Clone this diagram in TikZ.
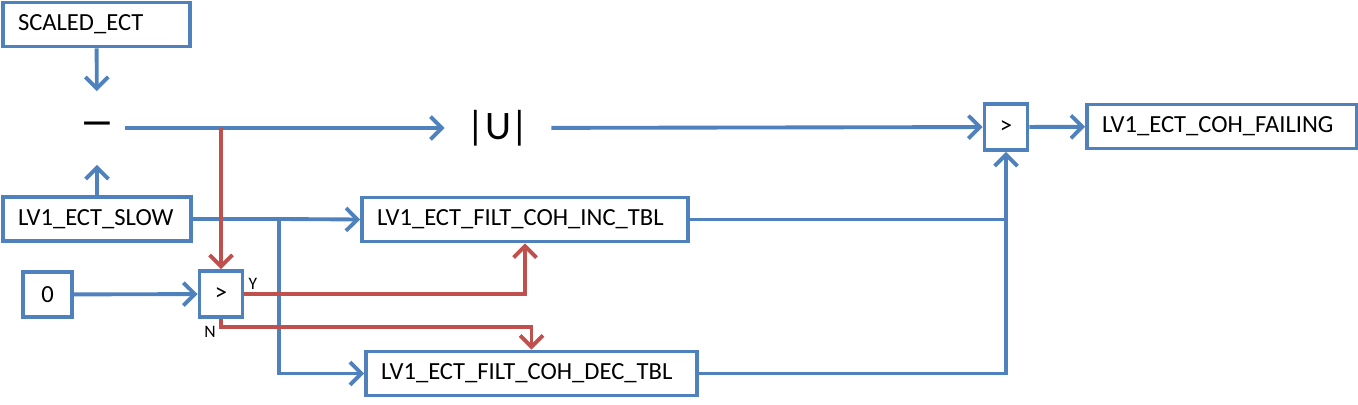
\documentclass[tikz,border=0pt]{standalone}
\usepackage{fontspec}
\setmainfont{Carlito}
\usetikzlibrary{arrows.meta}
\definecolor{lineblue}{RGB}{79,129,189}
\definecolor{linered}{RGB}{192,80,77}
\begin{document}
\begin{tikzpicture}[x=0.02cm, y=-0.02cm, font=\fontsize{14}{16}\selectfont, line width=2.2pt,
  >={Straight Barb[length=6.5pt, width=13pt]}]
\tikzstyle{blk}=[draw=lineblue, fill=white, minimum height=0.88cm, inner xsep=0.3cm, inner ysep=0pt, align=left]
\tikzstyle{cmp}=[draw=lineblue, fill=white, minimum width=0.86cm, minimum height=0.92cm, inner sep=0pt]
\tikzstyle{wire}=[draw=lineblue]
\tikzstyle{ctl}=[draw=linered]
\useasboundingbox (0,0) rectangle (1358,405);

% inputs
\node[blk, text width=3.14cm] (scaled) at (96.5,24.5) {SCALED\_ECT};
\node[blk, text width=3.16cm] (slow) at (97,219) {LV1\_ECT\_SLOW};
\node[cmp, minimum width=0.98cm, minimum height=0.9cm] (zero) at (47.5,294.5) {0};

% operators
\node[minimum width=1.04cm, minimum height=1.4cm, inner sep=0pt, font=\bfseries\fontsize{20}{22}\selectfont] (minus) at (97,128) {\raisebox{-6.5pt}{---}};
\node[minimum width=2.06cm, minimum height=1cm, inner sep=0pt, font=\fontsize{23}{25}\selectfont] (abs) at (498,128) {|U|};
\node[cmp] (cmpa) at (221,294) {>};
\node[cmp] (cmpb) at (1006,127) {>};

% tables and output
\node[blk, text width=5.92cm] (inc) at (525,219.5) {LV1\_ECT\_FILT\_COH\_INC\_TBL};
\node[blk, text width=6.02cm] (dec) at (531.5,373.5) {LV1\_ECT\_FILT\_COH\_DEC\_TBL};
\node[blk, text width=4.8cm] (fail) at (1222,126.5) {LV1\_ECT\_COH\_FAILING};

\node[font=\fontsize{10}{11}\selectfont] (ylbl) at (253,284) {Y};
\node[font=\fontsize{10}{11}\selectfont] (nlbl) at (210,332) {N};

% blue data flow
\draw[wire, ->] (scaled) -- (minus);
\draw[wire, ->] (slow) -- (minus);
\draw[wire, ->] (minus) -- (abs);
\draw[wire, ->] (abs) -- (cmpb);
\draw[wire, ->] (cmpb) -- (fail);
\draw[wire, ->] (zero) -- (cmpa);
\coordinate (split) at (279,219);
\draw[wire, ->] (slow.east) -- (split) -- (inc.west);
\draw[wire, ->] (split) |- (dec.west);
\draw[wire] (inc.east) -- (inc.east -| cmpb.south);
\draw[wire, ->] (dec.east) -| (cmpb.south);

% red control flow
\coordinate (tap) at (cmpa.north |- minus.east);
\draw[ctl, ->] (tap) -- (cmpa.north);
\draw[ctl, ->] (cmpa.east) -| (inc.south);
\draw[ctl, ->] (cmpa.south) -- ++(0,8) -| (dec.north);
\end{tikzpicture}
\end{document}
